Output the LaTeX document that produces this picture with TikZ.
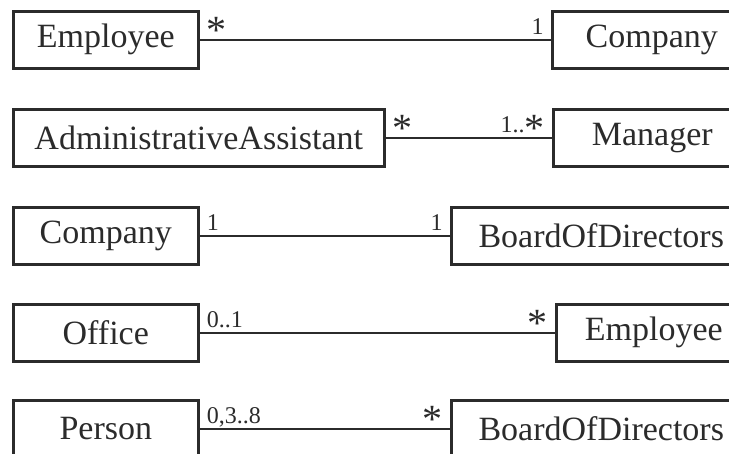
\documentclass[tikz,border=0pt]{standalone}
\usepackage{fontspec}
\setmainfont{Liberation Serif}
\usetikzlibrary{positioning}
\definecolor{ink}{HTML}{2B2B2B}
\tikzset{
  cls/.style={draw=ink,text=ink,line width=2.6pt,anchor=north west,minimum height=57pt,inner sep=0pt,font=\fontsize{34}{40}\selectfont},
  assoc/.style={draw=ink,line width=2.6pt},
  mul/.style={text=ink,inner sep=0pt,font=\fontsize{24}{28}\selectfont},
  ml/.style={mul,anchor=base west,xshift=6pt,yshift=5pt},
  mr/.style={mul,anchor=base east,xshift=-6pt,yshift=5pt}
}
\newcommand\mstar{\raisebox{-9pt}{\fontsize{40}{40}\selectfont *}}

\begin{document}
\begin{tikzpicture}[x=1pt,y=-1pt]
\path[use as bounding box,clip] (0,0) rectangle (729,453);
\node[cls,minimum width=185pt] (emp) at (12,10) {Employee};
\node[cls,minimum width=199pt] (comp) at (551,10) {Company};
\node[cls,minimum width=371pt] (asst) at (12,108) {AdministrativeAssistant};
\node[cls,minimum width=198pt] (mgr) at (552,108) {Manager};
\node[cls,minimum width=185pt] (compb) at (12,206) {Company};
\node[cls,minimum width=300pt] (board) at (450,206) {BoardOfDirectors};
\node[cls,minimum width=185pt] (off) at (12,303) {Office};
\node[cls,minimum width=195pt] (empb) at (555,303) {Employee};
\node[cls,minimum width=185pt] (pers) at (12,399) {Person};
\node[cls,minimum width=300pt] (boardb) at (450,399) {BoardOfDirectors};
\draw[assoc] (emp.east) -- (comp.west) node[ml,pos=0] {\mstar} node[mr,pos=1] {1};
\draw[assoc] (asst.east) -- (mgr.west) node[ml,pos=0] {\mstar} node[mr,pos=1] {1..\mstar};
\draw[assoc] (compb.east) -- (board.west) node[ml,pos=0] {1} node[mr,pos=1] {1};
\draw[assoc] (off.east) -- (empb.west) node[ml,pos=0] {0..1} node[mr,pos=1] {\mstar};
\draw[assoc] (pers.east) -- (boardb.west) node[ml,pos=0] {0,3..8} node[mr,pos=1] {\mstar};
\end{tikzpicture}
\end{document}
